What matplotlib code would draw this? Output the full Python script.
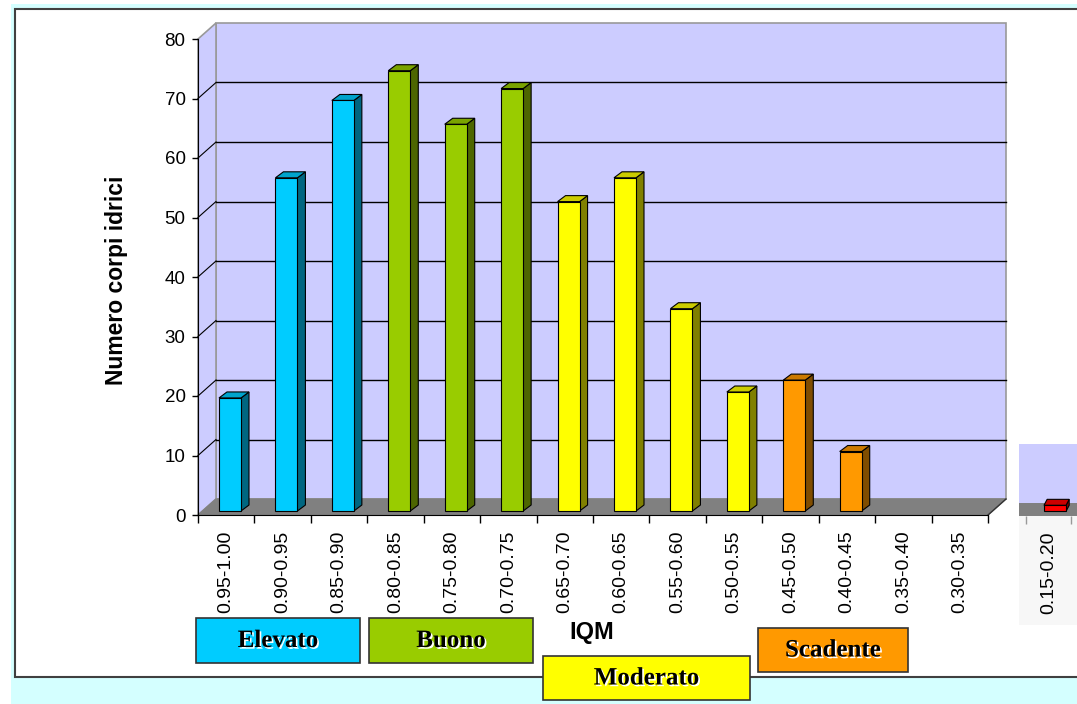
import matplotlib.pyplot as plt
from matplotlib.patches import Rectangle, Polygon
import matplotlib.patheffects as pe

plt.rcParams["font.family"] = ["Liberation Sans", "DejaVu Sans"]

# dati
categorie = ["0.95-1.00", "0.90-0.95", "0.85-0.90", "0.80-0.85", "0.75-0.80", "0.70-0.75",
             "0.65-0.70", "0.60-0.65", "0.55-0.60", "0.50-0.55", "0.45-0.50", "0.40-0.45",
             "0.35-0.40", "0.30-0.35"]
valori = [19, 56, 69, 74, 65, 71, 52, 56, 34, 20, 22, 10, 0, 0]
classi = ["Elevato", "Elevato", "Elevato", "Buono", "Buono", "Buono",
          "Moderato", "Moderato", "Moderato", "Moderato", "Scadente", "Scadente",
          "Scadente", "Scadente"]
categoria_extra = ["0.15-0.20"]
valore_extra = [1]

colori = {"Elevato": ("#00CCFF", "#006680", "#00A3CC"),
          "Buono": ("#99CC00", "#4D6600", "#7AA300"),
          "Moderato": ("#FFFF00", "#808000", "#CCCC00"),
          "Scadente": ("#FF9900", "#804D00", "#CC7A00"),
          "Cattivo": ("#FF0000", "#800000", "#CC0000")}

W, H = 1077, 704
fig = plt.figure(figsize=(W / 100, H / 100), dpi=100)
fig.patch.set_facecolor("white")

def fr(x0, y0, x1, y1):
    # rettangolo in pixel (origine in alto a sinistra) -> coordinate figura
    return (x0 / W, 1 - y1 / H), (x1 - x0) / W, (y1 - y0) / H

# sfondi
xy, w, h = fr(11, 4, W, H)
fig.patches.append(Rectangle(xy, w, h, transform=fig.transFigure, fc="#D4FFFF", ec="none", zorder=-3))
xy, w, h = fr(15, 9, W + 10, 677)
fig.patches.append(Rectangle(xy, w, h, transform=fig.transFigure, fc="white", ec="#404040", lw=1.5, zorder=-2))
xy, w, h = fr(1019, 444, W, 625)
fig.patches.append(Rectangle(xy, w, h, transform=fig.transFigure, fc="#F7F7F7", ec="none", zorder=-1))

n = len(categorie)
ax = fig.add_axes([198 / W, 1 - 515 / H, 790 / W, 476 / H])
ax.set_xlim(0, n)
ax.set_ylim(0, 80)
ax.set_facecolor("none")

# profondità 3D in unità dati
DX = 18 / (790 / n)
DY = 16 / (476 / 80)
BW = 0.39
BX = 0.067 + (1 - BW) / 2
BB = 0.67
ddx = 8 / (790 / n)
ddy = 6 / (476 / 80)

# pareti e pavimento
ax.add_patch(Polygon([(DX, DY), (n + DX, DY), (n + DX, 80 + DY), (DX, 80 + DY)],
                     fc="#CCCCFF", ec="#999999", lw=1.2, clip_on=False, zorder=0))
ax.add_patch(Polygon([(0, 0), (DX, DY), (DX, 80 + DY), (0, 80)],
                     fc="#CCCCFF", ec="#999999", lw=1.2, clip_on=False, zorder=0))
ax.add_patch(Polygon([(0, 0), (n, 0), (n + DX, DY), (DX, DY)],
                     fc="#808080", ec="#808080", lw=1, clip_on=False, zorder=1))
ax.plot([n, n + DX], [0, DY], color="#333333", lw=1, clip_on=False, zorder=2)
for v in range(10, 80, 10):
    ax.plot([DX, n + DX], [v + DY, v + DY], color="black", lw=1, clip_on=False, zorder=1)
    ax.plot([0, DX], [v, v + DY], color="black", lw=0.8, clip_on=False, zorder=1)

def barra(a, i, v, c):
    fronte, lato, sopra = colori[c]
    x0 = i + BX
    a.add_patch(Polygon([(x0 + BW, BB), (x0 + BW + ddx, BB + ddy), (x0 + BW + ddx, BB + v + ddy), (x0 + BW, BB + v)],
                        fc=lato, ec="black", lw=0.8, zorder=3, clip_on=False))
    a.add_patch(Polygon([(x0, BB + v), (x0 + BW, BB + v), (x0 + BW + ddx, BB + v + ddy), (x0 + ddx, BB + v + ddy)],
                        fc=sopra, ec="black", lw=0.8, zorder=3, clip_on=False))
    a.add_patch(Rectangle((x0, BB), BW, v, fc=fronte, ec="black", lw=0.8, zorder=4, clip_on=False))

for i, (v, c) in enumerate(zip(valori, classi)):
    if v > 0:
        barra(ax, i, v, c)

for s in ["top", "right"]:
    ax.spines[s].set_visible(False)
ax.spines["left"].set_color("black")
ax.spines["bottom"].set_color("black")
ax.spines["left"].set_zorder(5)
ax.spines["bottom"].set_zorder(5)

ax.set_yticks(range(0, 81, 10))
ax.tick_params(axis="y", labelsize=13.5, length=4, pad=5, width=1)
ax.set_xticks([i + 0.5 for i in range(n)])
ax.set_xticklabels(categorie, rotation=90, fontsize=14)
ax.set_xticks(range(n + 1), minor=True)
ax.tick_params(axis="x", which="major", length=0, pad=11)
ax.tick_params(axis="x", which="minor", length=6, width=1)
fig.text(117 / W, 1 - 280 / H, "Numero corpi idrici", fontsize=16.5, fontweight="bold",
         rotation=90, ha="center", va="center")

# riquadro a destra con la classe 0.15-0.20
ax2 = fig.add_axes([1019 / W, 1 - 516 / H, 58 / W, 72 / H])
ax2.set_xlim(-7 / 45, 51 / 45)
ax2.set_ylim(0, 72 / (476 / 80))
ax2.set_facecolor("#CCCCFF")
for s in ax2.spines.values():
    s.set_visible(False)
ax2.add_patch(Rectangle((-1, 0), 3, 13 / (476 / 80), fc="#808080", ec="none", zorder=1))
for i, v in enumerate(valore_extra):
    x0 = i + 0.4
    fronte, lato, sopra = colori["Cattivo"]
    b = 0.8
    ax2.add_patch(Polygon([(x0 + 0.49, b), (x0 + 0.56, b + 1.0), (x0 + 0.56, b + v + 1.0), (x0 + 0.49, b + v)],
                          fc=lato, ec="black", lw=0.8, zorder=3))
    ax2.add_patch(Polygon([(x0, b + v), (x0 + 0.49, b + v), (x0 + 0.56, b + v + 1.0), (x0 + 0.07, b + v + 1.0)],
                          fc=sopra, ec="black", lw=0.8, zorder=3))
    ax2.add_patch(Rectangle((x0, b), 0.49, v, fc=fronte, ec="black", lw=0.8, zorder=4))
ax2.set_yticks([])
ax2.set_xticks([0.5])
ax2.set_xticklabels(categoria_extra, rotation=90, fontsize=14)
ax2.set_xticks([0, 1], minor=True)
ax2.tick_params(axis="x", which="major", length=0, pad=11)
ax2.tick_params(axis="x", which="minor", length=6, width=1, color="#999999")

fig.text(592 / W, 1 - 633 / H, "IQM", fontsize=17, fontweight="bold", ha="center", va="center")

# legenda delle classi
legenda = [("Elevato", 196, 618, 360, 663), ("Buono", 369, 618, 533, 663),
           ("Moderato", 543, 656, 750, 700), ("Scadente", 758, 628, 908, 672)]
for nome, x0, y0, x1, y1 in legenda:
    xy, w, h = fr(x0, y0, x1, y1)
    fig.patches.append(Rectangle(xy, w, h, transform=fig.transFigure, fc=colori[nome][0], ec="#333333", lw=1.2))
    t = fig.text((x0 + x1) / 2 / W, 1 - (y0 + y1) / 2 / H, nome, fontsize=18, fontweight="bold",
                 family="Liberation Serif", ha="center", va="center")
    t.set_path_effects([pe.withSimplePatchShadow(offset=(1.2, -1.2), shadow_rgbFace="white", alpha=1)])

fig.savefig("out.png", dpi=100)
